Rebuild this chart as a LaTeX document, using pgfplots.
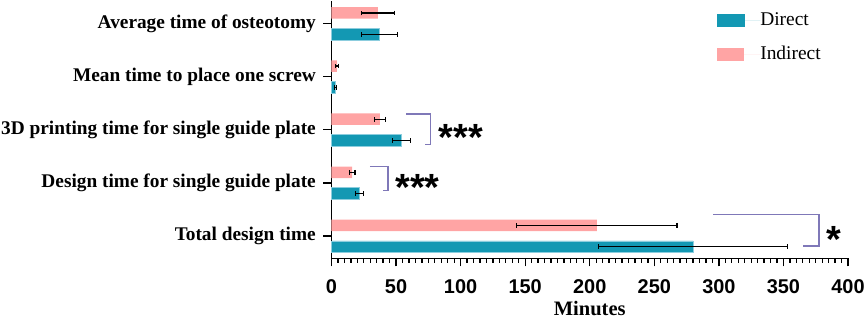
\documentclass[border=0pt]{standalone}
\usepackage{pgfplots}
\pgfplotsset{compat=1.18}
\usepackage{fontspec}
\setmainfont{Liberation Serif}
\newfontfamily\arial{Liberation Sans}
\definecolor{direct}{RGB}{19,152,179}
\definecolor{directedge}{RGB}{140,205,222}
\definecolor{indirect}{RGB}{255,164,164}
\definecolor{bracket}{RGB}{127,120,184}
\begin{document}
\begin{tikzpicture}
\path[use as bounding box] (-331.5bp,-60.7bp) rectangle (533.5bp,258.3bp);
\begin{axis}[
  at={(0,0)}, anchor=south west,
  scale only axis, width=516.5bp, height=257bp,
  xmin=0, xmax=400, ymin=-0.42, ymax=4.42,
  clip=false,
  axis lines=left, axis line style={-, line width=1.5bp, black},
  xtick={0,50,...,400}, minor x tick num=9,
  ytick={0,1,2,3,4},
  yticklabels={Total design time, Design time for single guide plate, 3D printing time for single guide plate, Mean time to place one screw, Average time of osteotomy},
  tick align=outside, major tick length=8bp, minor tick length=4.5bp,
  tick style={line width=1.3bp, black},
  /pgf/number format/assume math mode=true,
  xticklabel style={font=\arial\bfseries\fontsize{20}{24}\selectfont, anchor=base, inner sep=0pt, yshift=-27bp},
  yticklabel style={font=\bfseries\fontsize{19.4}{22}\selectfont, anchor=east, inner sep=0pt, xshift=-7.5bp},
  xlabel={\textbf{Minutes}},
  xlabel style={font=\fontsize{20.6}{24}\selectfont, inner sep=0pt, at={(axis description cs:0.5,0)}, anchor=base, yshift=-57.5bp},
  legend style={draw=none, fill=none, at={(rel axis cs:0.746,0.96)}, anchor=north west, inner sep=0pt, font=\fontsize{19.5}{22}\selectfont, row sep=16bp, column sep=0bp, nodes={inner sep=0pt, text height=14bp, text depth=4bp}},
  legend cell align=left,
]
\addplot[xbar, bar width=11.5bp, bar shift=0pt, fill=direct, draw=directedge, line width=0.6bp,
  legend image code/.code={\fill[direct] (0bp,-5.8bp) rectangle (26.6bp,6.6bp); \path[draw=none] (26.6bp,0) -- (43bp,0);},
  error bars/.cd, x dir=both, x explicit, error mark=|, error bar style={line width=1.2bp, black}, error mark options={line width=1.2bp, mark size=2.4bp, black}]
  coordinates {
    (280,-0.2) +- (73,0)
    (21.7,0.8) +- (3.3,0)
    (54.2,1.8) +- (6.8,0)
    (3.3,2.8) +- (0.8,0)
    (37,3.8) +- (14,0)
  };
\addlegendentry{Direct}
\addplot[xbar, bar width=11.5bp, bar shift=0pt, fill=indirect, draw=none,
  legend image code/.code={\fill[indirect] (0bp,-5.8bp) rectangle (26.6bp,6.6bp); \path[draw=none] (26.6bp,0) -- (43bp,0);},
  error bars/.cd, x dir=both, x explicit, error mark=|, error bar style={line width=1.2bp, black}, error mark options={line width=1.2bp, mark size=2.4bp, black}]
  coordinates {
    (205.5,0.2) +- (62,0)
    (16,1.2) +- (2.2,0)
    (37.5,2.2) +- (4.3,0)
    (4.1,3.2) +- (1.2,0)
    (36,4.2) +- (13,0)
  };
\addlegendentry{Indirect}
\draw[bracket, line width=1.3bp] (axis cs:57.7,2.298) -- (axis cs:76.8,2.298) -- (axis cs:76.8,1.727) -- (axis cs:72.6,1.727);
\draw[bracket, line width=1.3bp] (axis cs:29.8,1.305) -- (axis cs:43.8,1.305) -- (axis cs:43.8,0.853) -- (axis cs:40.1,0.853);
\draw[bracket, line width=1.3bp] (axis cs:295.7,0.408) -- (axis cs:377.5,0.408) -- (axis cs:377.5,-0.19) -- (axis cs:365.4,-0.19);
\node[anchor=base, inner sep=0pt, yshift=-19bp, font=\arial\bfseries\fontsize{38}{40}\selectfont] at (axis cs:100.3,1.96) {***};
\node[anchor=base, inner sep=0pt, yshift=-19bp, font=\arial\bfseries\fontsize{38}{40}\selectfont] at (axis cs:66.6,1.023) {***};
\node[anchor=base, inner sep=0pt, yshift=-19bp, font=\arial\bfseries\fontsize{38}{40}\selectfont] at (axis cs:389.2,0.056) {*};
\end{axis}
\end{tikzpicture}
\end{document}
